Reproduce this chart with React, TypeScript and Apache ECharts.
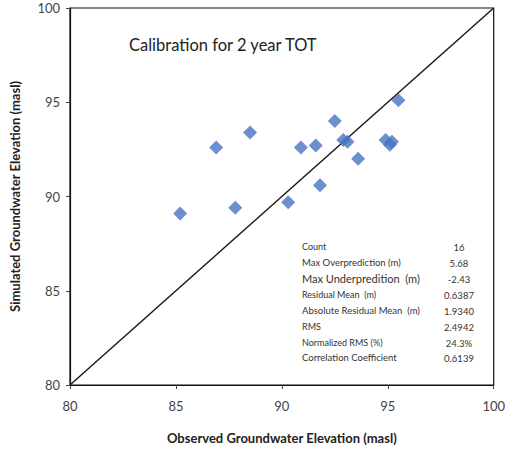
import React, { useEffect, useRef } from "react";
import * as echarts from "echarts";

const observed = [85.2, 86.9, 88.5, 87.8, 90.3, 90.9, 91.6, 91.8, 92.5, 92.9, 93.1, 93.6, 94.9, 95.1, 95.2, 95.5];
const simulated = [89.1, 92.6, 93.4, 89.4, 89.7, 92.6, 92.7, 90.6, 94.0, 93.0, 92.9, 92.0, 93.0, 92.75, 92.9, 95.1];
const oneToOne = [[80, 80], [100, 100]];
const statLabels = [
  "Count",
  "Max Overprediction (m)",
  "Max Underpredition  (m)",
  "Residual Mean  (m)",
  "Absolute Residual Mean  (m)",
  "RMS",
  "Normalized RMS (%)",
  "Correlation Coefficient",
];
const statValues = ["16", "5.68", "-2.43", "0.6387", "1.9340", "2.4942", "24.3%", "0.6139"];
const statSizes = [9, 9.5, 11, 9, 9.5, 9, 9, 9.5];
const chartTitle = "Calibration for 2 year TOT";

export default function App() {
  const ref = useRef<HTMLDivElement>(null);
  useEffect(() => {
    if (!ref.current) return;
    const chart = echarts.init(ref.current, undefined, { renderer: "svg" });
    const font = "Lato, 'Noto Sans', sans-serif";
    const rowY = [246, 262, 278, 294, 310, 326, 342, 357];
    const graphic: any[] = [
      {
        type: "text",
        left: 129,
        top: 36,
        style: { text: chartTitle, fontSize: 16.5, fill: "#222", fontFamily: font },
      },
    ];
    statLabels.forEach((l, i) => {
      graphic.push({
        type: "text",
        x: 302,
        y: rowY[i],
        style: { text: l, fontSize: statSizes[i], fill: "#333", fontFamily: font, verticalAlign: "middle" },
      });
      graphic.push({
        type: "text",
        x: 459,
        y: rowY[i] + 1,
        style: { text: statValues[i], fontSize: 9.5, fill: "#333", fontFamily: font, align: "center", verticalAlign: "middle" },
      });
    });
    chart.setOption({
      animation: false,
      backgroundColor: "#fff",
      textStyle: { fontFamily: font },
      grid: { left: 67, right: 14, top: 8, bottom: 74, show: true, borderColor: "#111", borderWidth: 1.2 },
      xAxis: {
        type: "value",
        min: 80,
        max: 100,
        interval: 5,
        name: "Observed Groundwater Elevation (masl)",
        nameLocation: "middle",
        nameGap: 46,
        nameTextStyle: { fontSize: 13, fontWeight: "bold", color: "#222", fontFamily: font },
        axisLine: { show: true, lineStyle: { color: "#111", width: 1.2 } },
        axisTick: { show: true, length: 4, lineStyle: { color: "#444" } },
        axisLabel: { fontSize: 13, color: "#444", margin: 14 },
        splitLine: { show: false },
      },
      yAxis: {
        type: "value",
        min: 80,
        max: 100,
        interval: 5,
        name: "Simulated Groundwater Elevation (masl)",
        nameLocation: "middle",
        nameGap: 49,
        nameTextStyle: { fontSize: 13, fontWeight: "bold", color: "#222", fontFamily: font },
        axisLine: { show: true, lineStyle: { color: "#111", width: 1.2 } },
        axisTick: { show: true, length: 4, lineStyle: { color: "#444" } },
        axisLabel: { fontSize: 13, color: "#444", margin: 10 },
        splitLine: { show: false },
      },
      graphic,
      series: [
        {
          type: "line",
          data: oneToOne,
          symbol: "none",
          lineStyle: { color: "#1a1a1a", width: 1.5 },
          z: 1,
        },
        {
          type: "scatter",
          data: observed.map((x, i) => [x, simulated[i]]),
          symbol: "diamond",
          symbolSize: 14,
          itemStyle: { color: "#4673c3" },
          z: 3,
        },
      ],
    });
    return () => chart.dispose();
  }, []);
  return <div ref={ref} style={{ width: 508, height: 459, position: "fixed", left: 0, top: 0 }} />;
}
